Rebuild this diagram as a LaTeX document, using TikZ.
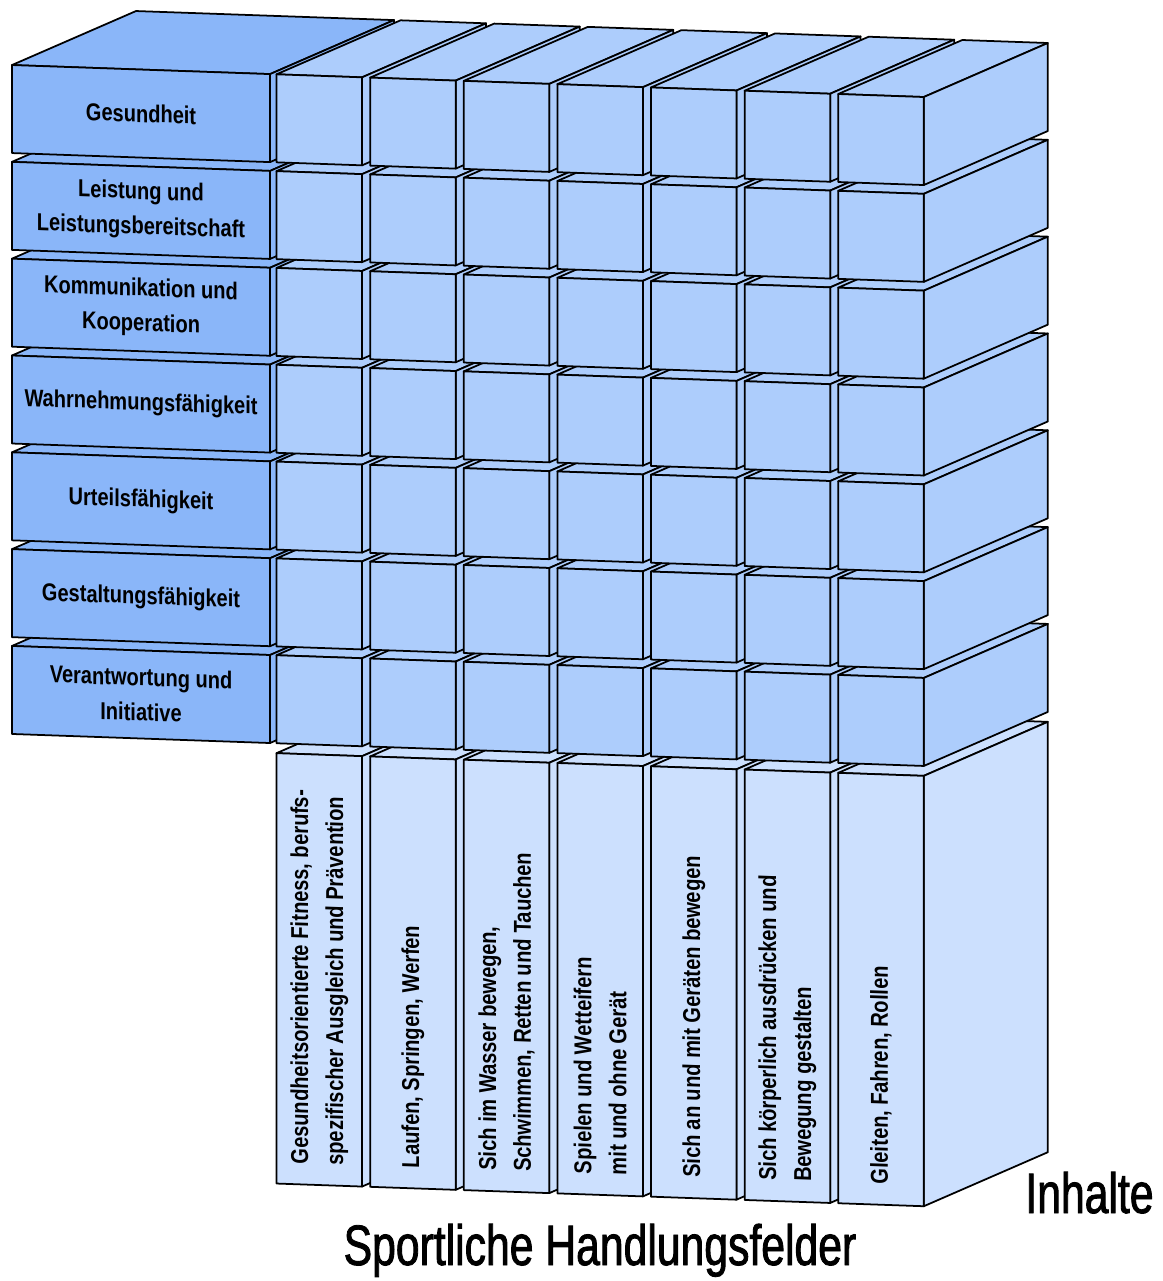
\documentclass[tikz,border=0pt]{standalone}
\usepackage{fontspec}
\setmainfont{Liberation Sans}
\newfontfamily\lblfont[FakeStretch=0.82]{Liberation Sans}
\newfontfamily\ttlfont[FakeStretch=0.75,FakeBold=1.5]{Liberation Sans}
\definecolor{labc}{RGB}{138,182,249}
\definecolor{cellc}{RGB}{173,205,252}
\definecolor{slabc}{RGB}{204,224,254}
\newcommand\mycuboid[5]{%
  \filldraw[fill=#5] (#1,#3,0)--(#2,#3,0)--(#2,#3,1)--(#1,#3,1)--cycle;
  \filldraw[fill=#5] (#2,#3,0)--(#2,#4,0)--(#2,#4,1)--(#2,#3,1)--cycle;
  \filldraw[fill=#5] (#1,#3,0)--(#2,#3,0)--(#2,#4,0)--(#1,#4,0)--cycle;
}
\tikzset{
  lbltxt/.style={font=\lblfont\bfseries\fontsize{13.9}{19.9}\selectfont, align=center, yslant=-0.035, inner sep=0pt},
  slabtxt/.style={font=\lblfont\bfseries\fontsize{13.9}{19.9}\selectfont, align=left, yslant=-0.035, rotate=90, anchor=west, inner sep=0pt},
  bigtxt/.style={font=\ttlfont\fontsize{32.4}{38}\selectfont, inner sep=0pt}
}
\begin{document}
\begin{tikzpicture}
\useasboundingbox (0,0) rectangle (23.26,-25.62);
\begin{scope}[x={(0.02cm,-0.0007cm)}, y={(0cm,-0.02cm)}, z={(2.48cm,1.08cm)}, line width=1pt, line join=round]
  % bottom slabs (Inhalte)
  \foreach \k in {0,...,6} {
    \pgfmathsetmacro\ua{276.5+93.6*\k}
    \pgfmathsetmacro\ub{\ua+85.5}
    \mycuboid{\ua}{\ub}{743.3}{1173.6}{slabc}
  }
  % rows, bottom to top
  \foreach \i in {6,5,...,0} {
    \pgfmathsetmacro\va{64.6+96.8*\i}
    \pgfmathsetmacro\vb{\va+88}
    \mycuboid{12}{270}{\va}{\vb}{labc}
    \foreach \k in {0,...,6} {
      \pgfmathsetmacro\ua{276.5+93.6*\k}
      \pgfmathsetmacro\ub{\ua+85.5}
      \mycuboid{\ua}{\ub}{\va}{\vb}{cellc}
    }
  }
  % row labels
  \node[lbltxt] (l0) at (141,108.6,0) {Gesundheit};
  \node[lbltxt] (l1) at (141,205.4,0) {Leistung und\\Leistungsbereitschaft};
  \node[lbltxt] (l2) at (141,302.2,0) {Kommunikation und\\Kooperation};
  \node[lbltxt] (l3) at (141,399.0,0) {Wahrnehmungsfähigkeit};
  \node[lbltxt] (l4) at (141,495.8,0) {Urteilsfähigkeit};
  \node[lbltxt] (l5) at (141,592.6,0) {Gestaltungsfähigkeit};
  \node[lbltxt] (l6) at (141,689.4,0) {Verantwortung und\\Initiative};
  % slab labels
  \node[slabtxt] (s0) at (319.25,1154,0) {Gesundheitsorientierte Fitness, berufs-\\spezifischer Ausgleich und Prävention};
  \node[slabtxt] (s1) at (412.85,1154,0) {Laufen, Springen, Werfen};
  \node[slabtxt] (s2) at (506.45,1154,0) {Sich im Wasser bewegen,\\Schwimmen, Retten und Tauchen};
  \node[slabtxt] (s3) at (600.05,1154,0) {Spielen und Wetteifern\\mit und ohne Gerät};
  \node[slabtxt] (s4) at (693.65,1154,0) {Sich an und mit Geräten bewegen};
  \node[slabtxt] (s5) at (787.25,1154,0) {Sich körperlich ausdrücken und\\Bewegung gestalten};
  \node[slabtxt] (s6) at (880.85,1154,0) {Gleiten, Fahren, Rollen};
\end{scope}
\node[bigtxt, anchor=base] (title) at (12.0,-25.3) {Sportliche Handlungsfelder};
\node[bigtxt, anchor=base west] (inh) at (20.5,-24.26) {Inhalte};
\end{tikzpicture}
\end{document}
